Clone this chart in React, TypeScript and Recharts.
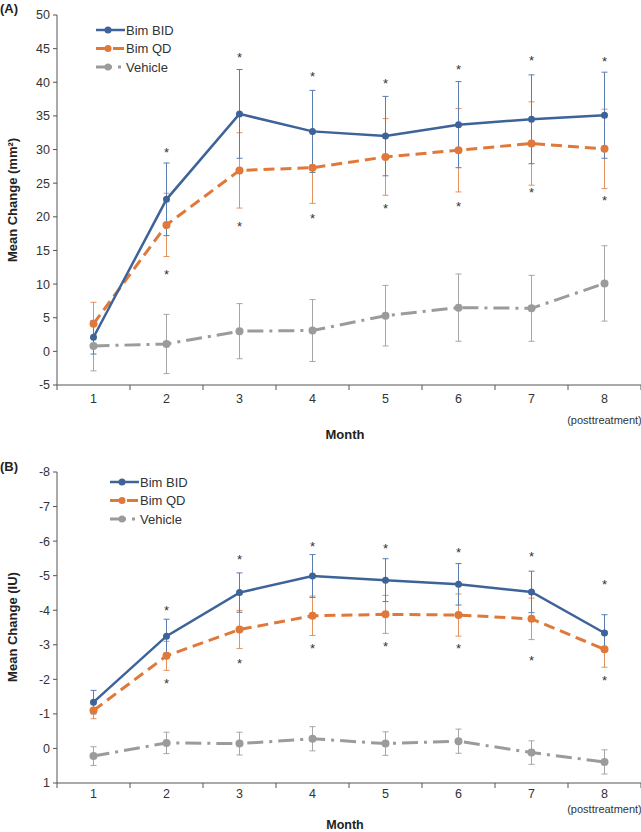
import React from "react";
import { ComposedChart, Line, XAxis, YAxis, ErrorBar, Legend } from "recharts";

const FONT = "'Liberation Sans', Arial, sans-serif";
const BLUE = "#3d6399";
const ORANGE = "#e0783a";
const GRAY = "#9b9b9b";
const TEXT = "#333";

const MONTHS = [1, 2, 3, 4, 5, 6, 7, 8];
const X_TICKS = [0.5, 1, 1.5, 2, 2.5, 3, 3.5, 4, 4.5, 5, 5.5, 6, 6.5, 7, 7.5, 8, 8.5];

// (A) mean change, mm²
const A_BID = [2.1, 22.6, 35.3, 32.7, 32.0, 33.7, 34.5, 35.1];
const A_BID_ERR = [2.5, 5.4, 6.6, 6.1, 5.9, 6.4, 6.6, 6.4];
const A_QD = [4.1, 18.8, 26.9, 27.3, 28.9, 29.9, 30.9, 30.1];
const A_QD_ERR = [3.2, 4.7, 5.6, 5.3, 5.7, 6.2, 6.2, 5.9];
const A_VEH = [0.8, 1.1, 3.0, 3.1, 5.3, 6.5, 6.4, 10.1];
const A_VEH_ERR = [3.7, 4.4, 4.1, 4.6, 4.5, 5.0, 4.9, 5.6];
const A_STAR_HI = [null, 29.9, 44.1, 41.2, 40.2, 42.3, 43.6, 43.4];
const A_STAR_LO = [null, 11.8, 18.9, 20.1, 21.6, 21.9, 24.0, 22.8];
const A_Y_TICKS = [-5, 0, 5, 10, 15, 20, 25, 30, 35, 40, 45, 50];

// (B) mean change, IU
const B_BID = [-1.34, -3.25, -4.51, -4.99, -4.87, -4.75, -4.53, -3.34];
const B_BID_ERR = [0.34, 0.49, 0.57, 0.62, 0.62, 0.6, 0.6, 0.53];
const B_QD = [-1.1, -2.68, -3.44, -3.84, -3.88, -3.86, -3.75, -2.87];
const B_QD_ERR = [0.24, 0.42, 0.55, 0.57, 0.55, 0.61, 0.6, 0.52];
const B_VEH = [0.22, -0.16, -0.14, -0.28, -0.14, -0.21, 0.12, 0.39];
const B_VEH_ERR = [0.27, 0.31, 0.33, 0.35, 0.34, 0.35, 0.34, 0.35];
const B_STAR_HI = [null, -4.05, -5.53, -5.92, -5.86, -5.75, -5.62, -4.81];
const B_STAR_LO = [null, -1.95, -2.52, -2.96, -3.03, -2.97, -2.62, -2.04];
const B_Y_TICKS = [-8, -7, -6, -5, -4, -3, -2, -1, 0, 1];

const SERIES = [
  { name: "Bim BID", color: BLUE, dash: undefined, width: 2.5 },
  { name: "Bim QD", color: ORANGE, dash: "11 6", width: 3 },
  { name: "Vehicle", color: GRAY, dash: "16 6 3 6", width: 3 },
];

function buildRows(
  bid: number[], bidErr: number[], qd: number[], qdErr: number[],
  veh: number[], vehErr: number[], hi: (number | null)[], lo: (number | null)[]
) {
  return MONTHS.map((m, i) => ({
    month: m,
    bid: bid[i], bidErr: bidErr[i],
    qd: qd[i], qdErr: qdErr[i],
    veh: veh[i], vehErr: vehErr[i],
    starHi: hi[i], starLo: lo[i],
  }));
}

const dataA = buildRows(A_BID, A_BID_ERR, A_QD, A_QD_ERR, A_VEH, A_VEH_ERR, A_STAR_HI, A_STAR_LO);
const dataB = buildRows(B_BID, B_BID_ERR, B_QD, B_QD_ERR, B_VEH, B_VEH_ERR, B_STAR_HI, B_STAR_LO);

function renderStar(props: any) {
  const { cx, cy, index } = props;
  if (cx == null || cy == null || Number.isNaN(cy)) return <g key={`s${index}`} />;
  return (
    <text key={`s${index}`} x={cx} y={cy + 7} textAnchor="middle" fontSize={13} fontFamily={FONT} fill={TEXT}>
      *
    </text>
  );
}

function MonthTick(props: any) {
  const { x, y, payload, labelDy, noteDy } = props;
  const v = payload.value;
  if (!Number.isInteger(v)) {
    return <line x1={x} y1={y} x2={x} y2={y + 5} stroke="#555" strokeWidth={1} />;
  }
  return (
    <g>
      <text x={x} y={y + labelDy} textAnchor="middle" fontSize={12.5} fontFamily={FONT} fill={TEXT}>
        {v}
      </text>
      {v === 8 && (
        <text x={x} y={y + noteDy} textAnchor="middle" fontSize={11} fontFamily={FONT} fill={TEXT}>
          (posttreatment)
        </text>
      )}
    </g>
  );
}

function LegendBox() {
  return (
    <svg width={110} height={56}>
      {SERIES.map((s, i) => {
        const y = 8 + i * 18.5;
        return (
          <g key={s.name}>
            <line x1={1} y1={y} x2={30} y2={y} stroke={s.color} strokeWidth={s.width} strokeDasharray={s.dash} />
            <circle cx={13} cy={y} r={3.5} fill={s.color} />
            <text x={31} y={y + 4.5} fontSize={13} fontFamily={FONT} fill={TEXT}>
              {s.name}
            </text>
          </g>
        );
      })}
    </svg>
  );
}

interface PanelProps {
  data: ReturnType<typeof buildRows>;
  height: number;
  top: number;
  domain: [number, number];
  ticks: number[];
  reversed?: boolean;
  legendAt: { left: number; top: number };
  labelDy: number;
  noteDy: number;
}

function Panel({ data, height, top, domain, ticks, reversed, legendAt, labelDy, noteDy }: PanelProps) {
  const [bid, qd, veh] = SERIES;
  return (
    <ComposedChart
      width={641}
      height={height}
      data={data}
      margin={{ top, right: 0, bottom: height - top - 30 - (reversed ? 311 : 370), left: 0 }}
    >
      <XAxis
        type="number"
        dataKey="month"
        domain={[0.5, 8.5]}
        ticks={X_TICKS}
        interval={0}
        height={30}
        tickSize={0}
        tickMargin={0}
        tickLine={false}
        axisLine={{ stroke: "#555" }}
        tick={(p: any) => <MonthTick {...p} labelDy={labelDy} noteDy={noteDy} />}
      />
      <YAxis
        domain={domain}
        ticks={ticks}
        reversed={reversed}
        interval={0}
        width={57}
        tickSize={4}
        tickMargin={3}
        axisLine={{ stroke: "#555" }}
        tickLine={{ stroke: "#555" }}
        tick={{ fontSize: 12.5, fontFamily: FONT, fill: TEXT }}
      />
      <Legend
        layout="vertical"
        align="center"
        verticalAlign="middle"
        content={() => <LegendBox />}
        wrapperStyle={{ left: legendAt.left, top: legendAt.top, width: 110, height: 56 }}
      />
      <Line
        dataKey="veh"
        name={veh.name}
        stroke={veh.color}
        strokeWidth={veh.width}
        strokeDasharray={veh.dash}
        dot={{ r: 4, fill: veh.color, stroke: "none" }}
        activeDot={false}
        isAnimationActive={false}
      >
        <ErrorBar dataKey="vehErr" width={3} stroke="#a6a6a6" strokeWidth={1} />
      </Line>
      <Line
        dataKey="qd"
        name={qd.name}
        stroke={qd.color}
        strokeWidth={qd.width}
        strokeDasharray={qd.dash}
        dot={{ r: 4, fill: qd.color, stroke: "none" }}
        activeDot={false}
        isAnimationActive={false}
      >
        <ErrorBar dataKey="qdErr" width={3} stroke="#e4915e" strokeWidth={1} />
      </Line>
      <Line
        dataKey="bid"
        name={bid.name}
        stroke={bid.color}
        strokeWidth={bid.width}
        dot={{ r: 3.5, fill: bid.color, stroke: "none" }}
        activeDot={false}
        isAnimationActive={false}
      >
        <ErrorBar dataKey="bidErr" width={3} stroke="#5a7db0" strokeWidth={1} />
      </Line>
      <Line dataKey="starHi" stroke="none" dot={renderStar} activeDot={false} legendType="none" isAnimationActive={false} />
      <Line dataKey="starLo" stroke="none" dot={renderStar} activeDot={false} legendType="none" isAnimationActive={false} />
    </ComposedChart>
  );
}

export default function App() {
  return (
    <div style={{ position: "absolute", left: 0, top: 0, width: 641, height: 832, background: "#fff", fontFamily: FONT }}>
      <div style={{ position: "absolute", left: 0, top: 0 }}>
        <Panel
          data={dataA}
          height={440}
          top={15}
          domain={[-5, 50]}
          ticks={A_Y_TICKS}
          legendAt={{ left: 95, top: 22 }}
          labelDy={18}
          noteDy={39}
        />
      </div>
      <div style={{ position: "absolute", left: 0, top: 440 }}>
        <Panel
          data={dataB}
          height={392}
          top={32}
          domain={[-8, 1]}
          ticks={B_Y_TICKS}
          reversed
          legendAt={{ left: 109, top: 34 }}
          labelDy={15}
          noteDy={30}
        />
      </div>
      <svg width={641} height={832} style={{ position: "absolute", left: 0, top: 0, pointerEvents: "none" }}>
        <g fontFamily={FONT} fontWeight="bold" fontSize={13} fill="#222">
          <text x={0} y={13}>(A)</text>
          <text x={0} y={471}>(B)</text>
          <text x={345} y={439} textAnchor="middle">Month</text>
          <text x={345} y={829} textAnchor="middle" fontSize={12.5}>Month</text>
          <text transform="translate(17,200) rotate(-90)" textAnchor="middle">Mean Change (mm²)</text>
          <text transform="translate(17,627) rotate(-90)" textAnchor="middle">Mean Change (IU)</text>
        </g>
      </svg>
    </div>
  );
}
